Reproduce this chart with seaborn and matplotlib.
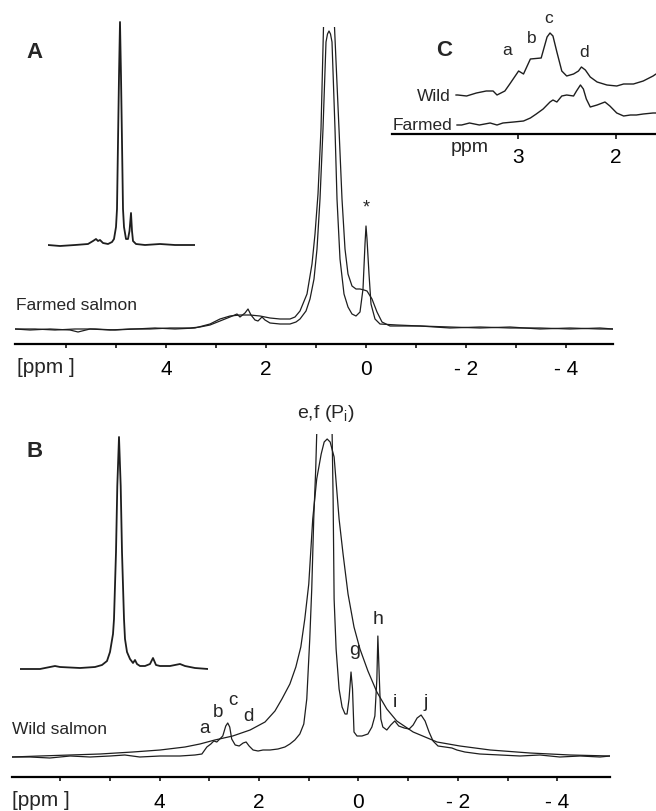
import matplotlib
matplotlib.use("Agg")
import matplotlib.pyplot as plt
import seaborn as sns
import pandas as pd
from matplotlib.ticker import FixedLocator, FixedFormatter

sns.set_style("white")
plt.rcParams['font.family'] = ['Liberation Sans', 'DejaVu Sans']
plt.rcParams['mathtext.fontset'] = 'custom'
plt.rcParams['mathtext.rm'] = 'Liberation Sans'
plt.rcParams['mathtext.it'] = 'Liberation Sans:italic'

# ---------------- data (chemical shift in ppm, intensity in arbitrary units) -------------
# Panel A : farmed salmon, two acquisitions
A_sharp_ppm = [7.02, 6.72, 6.32, 5.92, 5.76, 5.52, 5.12, 4.72, 4.32, 3.92, 3.52, 3.32, 3.12, 2.92,
               2.72, 2.58, 2.52, 2.42, 2.36, 2.30, 2.22, 2.16, 2.08, 2.02, 1.92, 1.72, 1.52, 1.40,
               1.32, 1.20, 1.12, 1.04, 0.98, 0.92, 0.86, 0.80, 0.77, 0.74, 0.71, 0.68, 0.62, 0.58,
               0.52, 0.44, 0.36, 0.28, 0.20, 0.12, 0.06, 0.02, 0.00, -0.02, -0.06, -0.10, -0.18,
               -0.28, -0.62, -1.08, -1.68, -2.28, -2.88, -3.48, -4.08, -4.68, -4.94]
A_sharp_int = [15, 14, 15, 14, 12, 15, 14, 15, 15, 16, 16, 17, 19, 23,
               27, 30, 27, 31, 35, 29, 24, 23, 27, 24, 21, 20, 20, 22,
               25, 33, 45, 65, 95, 145, 215, 302, 310, 313, 310, 302, 215, 145,
               85, 50, 37, 30, 28, 32, 55, 100, 118, 105, 70, 40, 25,
               20, 19, 18, 17, 16, 17, 15, 16, 15, 15]

A_broad_ppm = [7.02, 6.62, 6.22, 5.82, 5.42, 5.02, 4.62, 4.22, 3.82, 3.42, 3.12, 2.92, 2.72, 2.52,
               2.32, 2.12, 1.92, 1.72, 1.52, 1.42, 1.32, 1.18, 1.08, 1.02, 0.96, 0.90, 0.85, 0.74,
               0.63, 0.54, 0.48, 0.42, 0.36, 0.28, 0.20, 0.12, 0.04, -0.02, -0.12, -0.22, -0.32,
               -0.48, -1.08, -1.68, -2.28, -2.88, -3.48, -4.08, -4.68, -4.94]
A_broad_int = [15, 15, 14, 15, 15, 14, 15, 16, 15, 16, 20, 25, 28, 29,
               29, 28, 26, 25, 25, 27, 33, 50, 80, 110, 150, 215, 317, 600,
               317, 215, 145, 95, 70, 58, 55, 55, 54, 53, 45, 32, 22,
               18, 18, 16, 17, 16, 16, 15, 16, 15]

# Panel A inset (relative shift units)
insA_x = [0, 12, 27, 40, 45, 48, 50, 52, 55, 60, 64, 66, 68, 69, 70, 71, 72, 73, 74, 75, 76, 78,
          80, 81.5, 83, 84, 85, 88, 97, 112, 127, 147]
insA_y = [4, 3, 4, 5, 8, 10, 8, 9, 6, 5, 7, 10, 22, 40, 107, 173, 227, 173, 107, 40, 22, 10,
          10, 18, 36, 18, 8, 5, 4, 5, 4, 4]

# Panel B : wild salmon, two acquisitions
B_broad_ppm = [6.97, 6.41, 5.80, 5.20, 4.54, 3.99, 3.49, 3.19, 2.89, 2.53, 2.18, 1.88, 1.68, 1.54,
               1.38, 1.26, 1.16, 1.08, 1.00, 0.92, 0.84, 0.75, 0.69, 0.63, 0.57, 0.49, 0.39, 0.31,
               0.21, 0.09, -0.03, -0.19, -0.37, -0.57, -0.77, -1.10, -1.58, -2.04, -2.65, -3.45,
               -4.26, -5.06]
B_broad_int = [20, 21, 22, 23, 25, 27, 30, 33, 37, 41, 47, 55, 66, 78,
               93, 110, 130, 158, 193, 258, 298, 323, 335, 338, 335, 320, 258, 223,
               183, 150, 128, 106, 85, 68, 56, 45, 35, 31, 27, 24,
               22, 21]

B_narrow_ppm = [6.97, 6.61, 6.21, 5.80, 5.40, 5.00, 4.70, 4.40, 3.99, 3.59, 3.29, 3.15, 3.05, 2.97,
                2.91, 2.85, 2.79, 2.73, 2.67, 2.63, 2.59, 2.55, 2.48, 2.40, 2.32, 2.26, 2.20, 2.12,
                2.02, 1.92, 1.78, 1.62, 1.48, 1.38, 1.28, 1.18, 1.10, 1.04, 0.98, 0.94, 0.90, 0.86,
                0.84, 0.68, 0.53, 0.51, 0.49, 0.45, 0.39, 0.33, 0.27, 0.23, 0.19, 0.15, 0.12, 0.09,
                0.03, -0.07, -0.19, -0.27, -0.33, -0.37, -0.39, -0.42, -0.45, -0.49, -0.57, -0.65,
                -0.73, -0.81, -0.92, -1.02, -1.10, -1.18, -1.26, -1.34, -1.42, -1.50, -1.60, -1.74,
                -1.88, -1.98, -2.14, -2.44, -2.85, -3.25, -3.65, -4.05, -4.46, -4.86, -5.06]
B_narrow_int = [20, 20, 19, 21, 20, 21, 22, 20, 21, 21, 22, 23, 30, 33,
                36, 35, 38, 41, 51, 54, 50, 38, 32, 31, 34, 35, 31, 27,
                26, 27, 27, 28, 30, 33, 37, 43, 53, 78, 138, 188, 258, 308,
                343, 700, 343, 278, 178, 128, 88, 70, 63, 63, 78, 105, 88, 45,
                41, 41, 43, 50, 61, 98, 141, 98, 58, 50, 47, 52,
                56, 51, 49, 48, 52, 59, 62, 56, 45, 36, 31, 30,
                29, 27, 25, 23, 22, 21, 22, 20, 21, 20, 21]

# Panel B inset (relative shift units)
insB_x = [0, 20, 35, 40, 60, 75, 82, 87, 90, 93, 94, 96, 97.3, 99, 100.7, 102, 104, 105, 107,
          110, 113, 115, 117, 120, 125, 130, 133, 136, 140, 150, 160, 165, 175, 188]
insB_y = [2, 2, 5, 4, 3, 4, 6, 10, 19, 37, 52, 119, 185, 234, 185, 119, 52, 32, 19,
          12, 8, 11, 7, 5, 5, 7, 13, 6, 5, 5, 7, 5, 3, 2]

# Panel C : expanded 1.6-4.3 ppm region
C_wild_ppm = [3.63, 3.61, 3.52, 3.42, 3.32, 3.25, 3.21, 3.13, 3.08, 2.99, 2.94, 2.87, 2.76, 2.70,
              2.67, 2.64, 2.60, 2.55, 2.50, 2.43, 2.38, 2.35, 2.31, 2.26, 2.19, 2.09, 1.99, 1.92,
              1.82, 1.72, 1.62, 1.59]
C_wild_int = [39, 39, 38, 41, 43, 43, 39, 43, 50, 63, 60, 75, 76, 97,
              101, 98, 82, 63, 58, 60, 63, 67, 64, 57, 52, 49, 48, 50,
              50, 53, 58, 60]
C_farm_ppm = [3.62, 3.57, 3.49, 3.39, 3.28, 3.21, 3.15, 3.04, 2.94, 2.87, 2.81, 2.74, 2.67, 2.64,
              2.60, 2.55, 2.50, 2.43, 2.40, 2.36, 2.33, 2.30, 2.26, 2.19, 2.11, 2.06, 1.99, 1.92,
              1.85, 1.79, 1.72, 1.62, 1.59]
C_farm_int = [9, 9, 11, 9, 11, 9, 11, 12, 13, 16, 20, 25, 32, 34,
              32, 38, 39, 38, 43, 49, 45, 35, 27, 29, 32, 28, 21, 18,
              19, 19, 20, 21, 21]

main_ticks = [6, 5, 4, 3, 2, 1, 0, -1, -2, -3, -4]
main_tick_labels = ['', '', '4', '', '2', '', '0', '', '- 2', '', '- 4']
C_ticks = [3, 2]
C_tick_labels = ['3', '2']

# ---------------- figure -------------
W, H = 656, 812
fig = plt.figure(figsize=(W / 100, H / 100), dpi=100)
LC = '#1e1e1e'


def px_axes(l, t, r, b):
    ax = fig.add_axes([l / W, 1 - b / H, (r - l) / W, (b - t) / H])
    ax.set_facecolor('none')
    return ax


def trace(ax, xs, ys, lw=0.9):
    df = pd.DataFrame({'x': xs, 'y': ys})
    sns.lineplot(data=df, x='x', y='y', ax=ax, color=LC, linewidth=lw,
                 sort=False, estimator=None, legend=False)


def style_main(ax, xlim, ylim, ticks, labels, ticklen, pad):
    ax.set_xlim(*xlim)
    ax.set_ylim(*ylim)
    for s in ['top', 'left', 'right']:
        ax.spines[s].set_visible(False)
    ax.spines['bottom'].set_linewidth(1.6)
    ax.spines['bottom'].set_color('black')
    ax.set_yticks([])
    ax.xaxis.set_major_locator(FixedLocator(ticks))
    ax.xaxis.set_major_formatter(FixedFormatter(labels))
    ax.tick_params(axis='x', direction='out', length=ticklen, width=1.1, pad=pad,
                   labelsize=15, colors='black', bottom=True)
    ax.set_xlabel('')
    ax.set_ylabel('')


def style_inset(ax, xlim, ylim):
    ax.set_xlim(*xlim)
    ax.set_ylim(*ylim)
    ax.axis('off')


# Panel A
axA = px_axes(15, 28, 613, 345)
trace(axA, A_broad_ppm, A_broad_int)
trace(axA, A_sharp_ppm, A_sharp_int)
style_main(axA, (7.02, -4.94), (0, 317), main_ticks, main_tick_labels, 3, 7.5)
axA.text(6.62, 293, 'A', fontsize=16, fontweight='bold', ha='center', va='center')
axA.text(7.0, 35, 'Farmed salmon', fontsize=12.5, ha='left', va='baseline')
axA.text(0.0, 137, '*', fontsize=13, ha='center', va='center')
axA.text(6.98, -28, '[ppm ]', fontsize=15, ha='left', va='baseline')

insA = px_axes(48, 20, 195, 250)
trace(insA, insA_x, insA_y, lw=1.3)
style_inset(insA, (0, 147), (0, 230))

# Panel B
axB = px_axes(12, 435, 610, 778)
trace(axB, B_broad_ppm, B_broad_int)
trace(axB, B_narrow_ppm, B_narrow_int)
style_main(axB, (6.97, -5.06), (0, 343), main_ticks, main_tick_labels, 3, 7.5)
axB.text(6.51, 326, 'B', fontsize=16, fontweight='bold', ha='center', va='center')
axB.text(6.97, 44, 'Wild salmon', fontsize=12.5, ha='left', va='baseline')
axB.text(6.97, -28, '[ppm ]', fontsize=15, ha='left', va='baseline')
for lab, px, py in [('a', 3.09, 45), ('b', 2.83, 61), ('c', 2.53, 73), ('d', 2.22, 57)]:
    axB.text(px, py, lab, fontsize=13.5, ha='center', va='baseline')
for lab, px, py in [('g', 0.07, 123), ('h', -0.40, 154), ('i', -0.73, 71), ('j', -1.36, 71)]:
    axB.text(px, py, lab, fontsize=14, ha='center', va='baseline')
axB.text(0.65, 360, r'e,f (P$_{\rm i}$)', fontsize=14, ha='center', va='baseline')

insB = px_axes(20, 435, 208, 672)
trace(insB, insB_x, insB_y, lw=1.3)
style_inset(insB, (0, 188), (0, 237))

# Panel C
axC = px_axes(392, 10, 656, 135)
trace(axC, C_wild_ppm, C_wild_int, lw=1.0)
trace(axC, C_farm_ppm, C_farm_int, lw=1.0)
style_main(axC, (4.28, 1.59), (0, 125), C_ticks, C_tick_labels, 3.6, 5.5)
axC.text(3.75, 84.5, 'C', fontsize=16, fontweight='bold', ha='center', va='center')
for lab, px, py in [('a', 3.11, 80), ('b', 2.86, 92), ('c', 2.68, 112), ('d', 2.32, 78)]:
    axC.text(px, py, lab, fontsize=12.5, ha='center', va='baseline')
axC.text(3.68, 34, 'Wild', fontsize=12.5, ha='right', va='baseline')
axC.text(3.66, 5, 'Farmed', fontsize=12.5, ha='right', va='baseline')
axC.text(3.49, -17, 'ppm', fontsize=14, ha='center', va='baseline')

fig.savefig('out.png', dpi=100, facecolor='white')
